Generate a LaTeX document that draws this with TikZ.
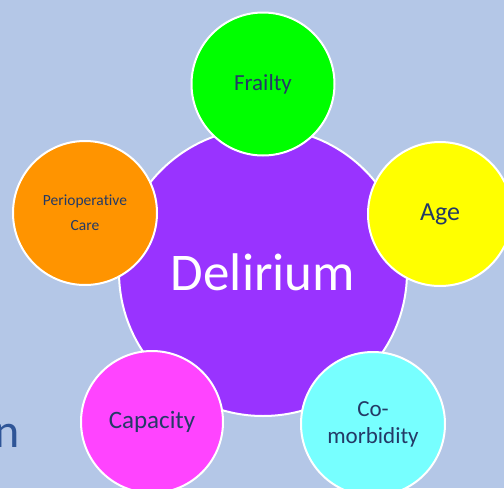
\documentclass[tikz,border=0pt]{standalone}
\usepackage{fontspec}
\setmainfont{Carlito}[Ligatures={NoCommon}]
\definecolor{bgblue}{HTML}{B4C7E7}
\definecolor{purp}{HTML}{9933FF}
\definecolor{grn}{HTML}{00FF00}
\definecolor{yel}{HTML}{FFFF00}
\definecolor{cyn}{HTML}{77FFFF}
\definecolor{mag}{HTML}{FF44FF}
\definecolor{org}{HTML}{FF9400}
\definecolor{navy}{HTML}{243A66}
\definecolor{nblue}{HTML}{2F5597}
\tikzset{
  bubble/.style={circle, draw=white, line width=2pt, inner sep=0pt, text=navy, align=center},
}
\begin{document}
\begin{tikzpicture}[x=1pt,y=-1pt]
\useasboundingbox (0,0) rectangle (504,488);
\clip (0,0) rectangle (504,488);
\fill[bgblue] (0,0) rectangle (504,488);
\node[anchor=base west, text=nblue, font=\fontsize{48}{48}\selectfont] (ntext) at (-9,447) {n};
\node[bubble, fill=purp, minimum size=288pt, text=white, font=\fontsize{53}{60}\selectfont] (delirium) at (263,272) {Delirium};
\node[bubble, fill=grn, minimum size=143pt, font=\fontsize{23}{26}\selectfont] (frailty) at (263,84) {Frailty};
\node[bubble, fill=yel, minimum size=144pt, font=\fontsize{26}{30}\selectfont] (age) at (440,214) {Age};
\node[bubble, fill=cyn, minimum size=144pt, font=\fontsize{23}{27}\selectfont] (comorb) at (373,424) {Co-\\morbidity};
\node[bubble, fill=mag, minimum size=142pt, font=\fontsize{25}{30}\selectfont] (capacity) at (152,422) {Capacity};
\node[bubble, fill=org, minimum size=144pt, font=\fontsize{15.5}{25}\selectfont] (periop) at (85,213) {Perioperative\\Care};
\end{tikzpicture}
\end{document}
